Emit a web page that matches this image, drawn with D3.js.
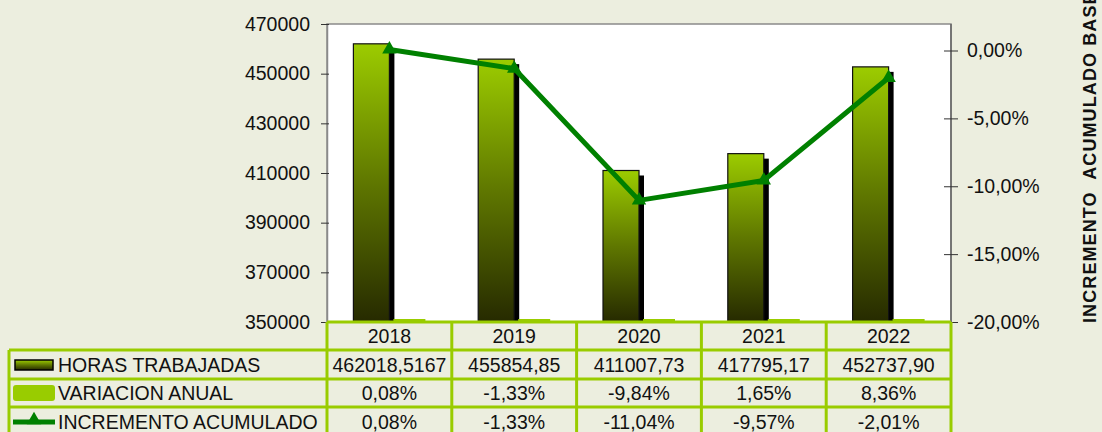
<!DOCTYPE html>
<html>
<head>
<meta charset="utf-8">
<script src="https://cdn.jsdelivr.net/npm/d3@7"></script>
<style>
	html, body { margin: 0; padding: 0; background: #eceedf; }
	svg { display: block; font-family: 'Liberation Sans', Arial, sans-serif; }
</style>
</head>
<body>
<div class="chart"></div>
<script>
// horas trabajadas por año + variación e incremento acumulado
const years = ['2018', '2019', '2020', '2021', '2022']
const horas = [462018.5167, 455854.85, 411007.73, 417795.17, 452737.90]
const horasText = ['462018,5167', '455854,85', '411007,73', '417795,17', '452737,90']
const variacion = [0.0008, -0.0133, -0.0984, 0.0165, 0.0836]
const incremento = [0.0008, -0.0133, -0.1104, -0.0957, -0.0201]
const leftTicks = [350000, 370000, 390000, 410000, 430000, 450000, 470000]
const rightTicks = [0, -0.05, -0.10, -0.15, -0.20]
const seriesNames = ['HORAS TRABAJADAS', 'VARIACION ANUAL', 'INCREMENTO ACUMULADO']

const W = 1102
const H = 432
const plot = ({left: 327, right: 951, top: 24, bottom: 322})
const rowY = [322, 350, 379, 407, 436]
const tableLeft = 9
const lightGreen = '#99cc00'
const lineGreen = '#008000'

const es = d3.formatLocale({decimal: ',', thousands: '.', grouping: [3], currency: ['', ''], minus: '-'})
const pct = es.format('.2%')

const svg = d3.select('.chart')
	.append('svg')
	.attr('width', W)
	.attr('height', H)

const defs = svg.append('defs')
const grad = defs.append('linearGradient')
	.attr('id', 'barGrad')
	.attr('x1', 0).attr('y1', 0).attr('x2', 0).attr('y2', 1)
grad.append('stop').attr('offset', '0%').attr('stop-color', '#9ccc00')
grad.append('stop').attr('offset', '50%').attr('stop-color', '#5f7700')
grad.append('stop').attr('offset', '100%').attr('stop-color', '#262a00')

defs.append('clipPath').attr('id', 'plotClip')
	.append('rect')
	.attr('x', plot.left).attr('y', plot.top)
	.attr('width', plot.right - plot.left).attr('height', plot.bottom - plot.top)

const xScale = d3.scaleBand()
	.domain(years)
	.range([plot.left, plot.right])

const yScale = d3.scaleLinear()
	.domain([350000, 470000])
	.range([plot.bottom, plot.top])
	.clamp(true)

const y2Scale = d3.scaleLinear()
	.domain([-0.20, 0])
	.range([plot.bottom, 50.5])

const barW = 36
const cx = d => xScale(d) + xScale.bandwidth() / 2

// plot area
svg.append('rect')
	.attr('x', plot.left).attr('y', plot.top)
	.attr('width', plot.right - plot.left).attr('height', plot.bottom - plot.top)
	.attr('fill', '#fff')
	.attr('stroke', '#8a8a8a')
	.attr('stroke-width', 1.5)

// bar shadows
const bars = svg.append('g').attr('clip-path', 'url(#plotClip)')
bars.selectAll('.shadow')
	.data(horas)
	.enter()
	.append('rect')
	.attr('class', 'shadow')
	.attr('x', (d, i) => cx(years[i]) - barW + 5)
	.attr('y', d => yScale(d) + 5)
	.attr('width', barW)
	.attr('height', d => plot.bottom - yScale(d))
	.attr('fill', '#000')

// horas bars
bars.selectAll('.bar')
	.data(horas)
	.enter()
	.append('rect')
	.attr('class', 'bar')
	.attr('x', (d, i) => cx(years[i]) - barW)
	.attr('y', d => yScale(d))
	.attr('width', barW)
	.attr('height', d => plot.bottom - yScale(d))
	.attr('fill', 'url(#barGrad)')
	.attr('stroke', '#111')
	.attr('stroke-width', 1.2)

// variacion bars (on primary axis, tiny)
svg.selectAll('.var')
	.data(variacion)
	.enter()
	.append('rect')
	.attr('class', 'var')
	.attr('x', (d, i) => cx(years[i]) + 4)
	.attr('y', d => Math.min(yScale(d), plot.bottom - 2) - 1)
	.attr('width', barW - 4)
	.attr('height', d => Math.max(2, plot.bottom - yScale(d)))
	.attr('fill', lightGreen)

// left axis
const yAxis = d3.axisLeft(yScale)
	.tickValues(leftTicks)
	.tickFormat(d3.format('d'))
	.tickSizeInner(6)
	.tickSizeOuter(0)
	.tickPadding(11)

const gy = svg.append('g')
	.attr('transform', `translate(${plot.left}, 0)`)
	.call(yAxis)
gy.select('.domain').attr('stroke', '#8a8a8a').attr('stroke-width', 1.5)
gy.selectAll('.tick line').attr('x1', 2).attr('stroke', '#333')
gy.selectAll('.tick text')
	.attr('font-size', '19.5px')
	.attr('font-family', 'Liberation Sans, Arial, sans-serif')
	.attr('fill', '#111')

// right axis
const y2Axis = d3.axisRight(y2Scale)
	.tickValues(rightTicks)
	.tickFormat(pct)
	.tickSizeInner(7)
	.tickSizeOuter(0)
	.tickPadding(9)

const gy2 = svg.append('g')
	.attr('transform', `translate(${plot.right}, 0)`)
	.call(y2Axis)
gy2.select('.domain').attr('stroke', '#666').attr('stroke-width', 1.5)
	.attr('d', `M0,${plot.top}V${plot.bottom}`)
gy2.selectAll('.tick line').attr('x1', -7).attr('stroke', '#333')
gy2.selectAll('.tick text')
	.attr('font-size', '19.5px')
	.attr('font-family', 'Liberation Sans, Arial, sans-serif')
	.attr('fill', '#111')

// right axis title (top is cut by the frame, as in the original)
svg.append('text')
	.attr('transform', `translate(1096, 323) rotate(-90)`)
	.attr('font-size', '18px')
	.attr('font-weight', 'bold')
	.attr('letter-spacing', '1.1px')
	.attr('fill', '#111')
	.style('white-space', 'pre')
	.text('INCREMENTO  ACUMULADO BASE')

// incremento line
const line = d3.line()
	.x((d, i) => cx(years[i]))
	.y(d => y2Scale(d))

svg.append('path')
	.datum(incremento)
	.attr('d', line)
	.attr('fill', 'none')
	.attr('stroke', lineGreen)
	.attr('stroke-width', 5)
	.attr('stroke-linejoin', 'round')

const tri = d3.symbol().type(d3.symbolTriangle).size(90)
svg.selectAll('.marker')
	.data(incremento)
	.enter()
	.append('path')
	.attr('class', 'marker')
	.attr('d', tri)
	.attr('transform', (d, i) => `translate(${cx(years[i])}, ${y2Scale(d)})`)
	.attr('fill', lineGreen)

// data table
const table = svg.append('g')
const rows = [years, horasText, variacion.map(pct), incremento.map(pct)]

rows.forEach((row, r) => {
	table.selectAll(`.cell${r}`)
		.data(row)
		.enter()
		.append('text')
		.attr('x', (d, i) => cx(years[i]))
		.attr('y', (rowY[r] + rowY[r + 1]) / 2)
		.attr('dy', '0.36em')
		.attr('text-anchor', 'middle')
		.attr('font-size', '19.5px')
		.attr('fill', '#111')
		.text(d => d)
})

// row labels
table.selectAll('.rowlabel')
	.data(seriesNames)
	.enter()
	.append('text')
	.attr('x', 58)
	.attr('y', (d, i) => (rowY[i + 1] + rowY[i + 2]) / 2)
	.attr('dy', '0.36em')
	.attr('font-size', '19.5px')
	.attr('fill', '#111')
	.text(d => d)

// table grid
const gridStroke = g => g.attr('stroke', lightGreen).attr('stroke-width', 3).attr('fill', 'none')
rowY.forEach((y, i) => {
	table.append('line')
		.attr('x1', i === 0 ? plot.left : tableLeft).attr('x2', plot.right)
		.attr('y1', y).attr('y2', y)
		.call(gridStroke)
})
const colX = [plot.left].concat(years.map(d => xScale(d) + xScale.bandwidth()))
colX.forEach(x => {
	table.append('line')
		.attr('x1', x).attr('x2', x)
		.attr('y1', rowY[0]).attr('y2', H)
		.call(gridStroke)
})
table.append('line')
	.attr('x1', tableLeft).attr('x2', tableLeft)
	.attr('y1', rowY[1]).attr('y2', H)
	.call(gridStroke)

// legend keys
table.append('rect')
	.attr('x', 15).attr('y', 360)
	.attr('width', 38).attr('height', 10)
	.attr('fill', 'url(#barGrad)')
	.attr('stroke', '#000')
	.attr('stroke-width', 1.5)
table.append('rect')
	.attr('x', 13).attr('y', 385)
	.attr('width', 42).attr('height', 16)
	.attr('rx', 3)
	.attr('fill', lightGreen)
table.append('line')
	.attr('x1', 13).attr('x2', 55)
	.attr('y1', 422).attr('y2', 422)
	.attr('stroke', lineGreen)
	.attr('stroke-width', 5)
table.append('path')
	.attr('d', tri)
	.attr('transform', 'translate(34, 420)')
	.attr('fill', lineGreen)
</script>
</body>
</html>
